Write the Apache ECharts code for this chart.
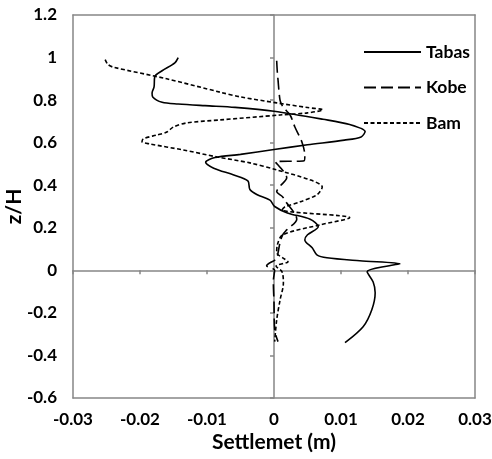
<!DOCTYPE html>
<html>
<head>
<meta charset="utf-8">
<script src="https://cdn.jsdelivr.net/npm/echarts@6/dist/echarts.min.js"></script>
<style>
html,body{margin:0;padding:0;background:#fff;}
#chart{width:492px;height:459px;}
</style>
</head>
<body>
<div id="chart"></div>
<script>
// Tick values
const xTicks = [-0.03, -0.02, -0.01, 0, 0.01, 0.02, 0.03];
const yTicks = [-0.6, -0.4, -0.2, 0, 0.2, 0.4, 0.6, 0.8, 1.0, 1.2];
const seriesNames = ['Tabas', 'Kobe', 'Bam'];

// [settlement (m), z/H]
const tabas = [[-0.0143,1.0],[-0.0148,0.975],[-0.0167,0.938],[-0.0178,0.91],[-0.0179,0.862],[-0.0182,0.834],[-0.0181,0.815],[-0.0167,0.79],[-0.0143,0.782],[-0.0103,0.774],[-0.0058,0.766],[0,0.748],[0.0073,0.71],[0.0113,0.685],[0.0136,0.652],[0.013,0.627],[0.0105,0.612],[0.005,0.59],[0,0.568],[-0.005,0.545],[-0.0088,0.53],[-0.0102,0.508],[-0.009,0.48],[-0.006,0.448],[-0.0039,0.42],[-0.0036,0.38],[-0.0025,0.355],[-0.0006,0.33],[0.0001,0.30],[0.002,0.27],[0.0054,0.24],[0.0066,0.205],[0.005,0.167],[0.0046,0.143],[0.0057,0.106],[0.0064,0.073],[0.0079,0.059],[0.0128,0.045],[0.0188,0.031],[0.0172,0.022],[0.0139,-0.007],[0.0148,-0.055],[0.0151,-0.105],[0.0146,-0.185],[0.0133,-0.265],[0.0106,-0.34]];

const kobe = [[0.0004,0.985],[0.0005,0.93],[0.0006,0.895],[0.0009,0.80],[0.0013,0.77],[0.0024,0.73],[0.0031,0.675],[0.0042,0.60],[0.0046,0.54],[0.0045,0.515],[0.0002,0.51],[0.0013,0.47],[0.0019,0.435],[0.0009,0.395],[0.0004,0.37],[0.0013,0.345],[0.0016,0.33],[0.0034,0.24],[0.0019,0.19],[0.0013,0.167],[0.0009,0.13],[0.0006,0.082],[0.0004,0.055],[-0.0011,0.022],[0.0001,0.0],[-0.0001,-0.05],[0.0,-0.15],[0.0001,-0.28],[0.0006,-0.335]];

const bam = [[-0.0252,0.99],[-0.0248,0.968],[-0.0240,0.955],[-0.016,0.90],[-0.008,0.837],[-0.005,0.815],[0.0004,0.787],[0.005,0.765],[0.0073,0.754],[0.005,0.74],[0.0009,0.73],[-0.008,0.707],[-0.013,0.693],[-0.015,0.674],[-0.016,0.65],[-0.0175,0.636],[-0.0195,0.618],[-0.0197,0.604],[-0.0185,0.594],[-0.0136,0.566],[-0.0085,0.533],[-0.0036,0.505],[0.0004,0.472],[0.0054,0.425],[0.0072,0.392],[0.0064,0.355],[0.0039,0.322],[0.0016,0.298],[0.0012,0.284],[0.0113,0.247],[0.0069,0.214],[0.0013,0.167],[0.0005,0.12],[0.0004,0.082],[0.0013,0.059],[0.0021,0.04],[0.0003,0.02],[0.0012,-0.007],[0.0014,-0.06],[0.0009,-0.14],[0.0004,-0.233],[0.0001,-0.335]];

const FONT = 'Lato';
const GRAY = '#868686';
const xInt = Math.round((xTicks[1] - xTicks[0]) * 1e6) / 1e6;
const yInt = Math.round((yTicks[1] - yTicks[0]) * 1e6) / 1e6;
const xMin = xTicks[0], xMax = xTicks[xTicks.length - 1];
const yMin = yTicks[0], yMax = yTicks[yTicks.length - 1];

const labelStyle = {color: '#000', fontFamily: FONT, fontWeight: 'bold', fontSize: 17};
const borderLine = {show: true, onZero: false, lineStyle: {color: GRAY, width: 1.5}};
const zeroLine = {show: true, onZero: true, lineStyle: {color: GRAY, width: 1.5}};
const zeroTick = {show: true, length: 4, lineStyle: {color: GRAY, width: 1.5}};

function frameAxis(pos, extra) {
  return Object.assign({type: 'value', position: pos, axisLine: borderLine,
    axisTick: {show: false}, axisLabel: {show: false}, splitLine: {show: false}}, extra);
}

const chart = echarts.init(document.getElementById('chart'));
chart.setOption({
  animation: false,
  grid: {left: 73, right: 17, top: 15, bottom: 61, containLabel: false, outerBoundsMode: 'none'},
  legend: {
    data: seriesNames,
    orient: 'vertical',
    left: 363, top: 43,
    itemWidth: 57, itemHeight: 14, itemGap: 17.5,
    padding: 0,
    itemStyle: {opacity: 0},
    textStyle: {color: '#000', fontFamily: FONT, fontWeight: 'bold', fontSize: 17.5}
  },
  xAxis: [
    {type: 'value', min: xMin, max: xMax, interval: xInt, position: 'bottom',
     axisLine: borderLine, axisTick: {show: false}, splitLine: {show: false},
     axisLabel: Object.assign({margin: 13}, labelStyle),
     name: 'Settlemet (m)', nameLocation: 'middle', nameGap: 34, nameMoveOverlap: false,
     nameTextStyle: {color: '#000', fontFamily: FONT, fontWeight: 'bold', fontSize: 21}},
    {type: 'value', min: xMin, max: xMax, interval: xInt, position: 'bottom',
     axisLine: zeroLine, axisTick: zeroTick,
     axisLabel: {show: false}, splitLine: {show: false}},
    frameAxis('top', {min: xMin, max: xMax, interval: xInt})
  ],
  yAxis: [
    {type: 'value', min: yMin, max: yMax, interval: yInt, position: 'left',
     axisLine: borderLine, axisTick: {show: false}, splitLine: {show: false},
     axisLabel: Object.assign({margin: 16}, labelStyle),
     name: 'z/H', nameLocation: 'middle', nameGap: 48, nameMoveOverlap: false,
     nameTextStyle: {color: '#000', fontFamily: FONT, fontWeight: 'bold', fontSize: 21}},
    {type: 'value', min: yMin, max: yMax, interval: yInt, position: 'left',
     axisLine: zeroLine, axisTick: zeroTick,
     axisLabel: {show: false}, splitLine: {show: false}},
    frameAxis('right', {min: yMin, max: yMax, interval: yInt})
  ],
  series: [
    {name: seriesNames[0], type: 'line', data: tabas, symbol: 'none', showSymbol: false, smooth: 0.3,
     lineStyle: {color: '#000', width: 1.6, type: 'solid'}, itemStyle: {color: '#000'}},
    {name: seriesNames[1], type: 'line', data: kobe, symbol: 'none', showSymbol: false, smooth: 0.3,
     lineStyle: {color: '#000', width: 1.6, type: [12, 5]}, itemStyle: {color: '#000'}},
    {name: seriesNames[2], type: 'line', data: bam, symbol: 'none', showSymbol: false, smooth: 0.3,
     lineStyle: {color: '#000', width: 1.6, type: [4, 2.5]}, itemStyle: {color: '#000'}}
  ]
});
</script>
</body>
</html>
